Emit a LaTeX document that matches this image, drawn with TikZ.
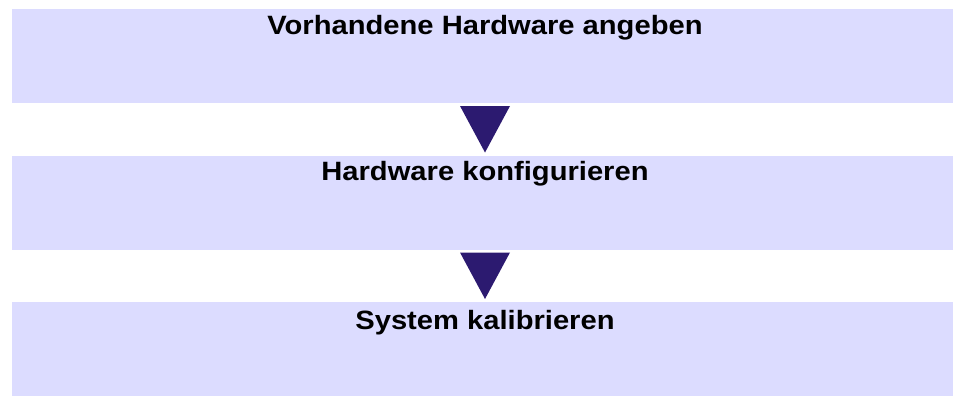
\documentclass[tikz,border=0pt]{standalone}
\usepackage{fontspec}
\setmainfont{Liberation Sans}[FakeStretch=1.1]
\usetikzlibrary{calc}
\definecolor{boxfill}{HTML}{DCDCFF}
\definecolor{trifill}{HTML}{2C1A70}
\tikzset{
  stepbox/.style={fill=boxfill, draw=none, minimum width=946pt, minimum height=94pt, inner sep=0pt, outer sep=0pt},
  steptext/.style={anchor=base, inner sep=0pt, font=\fontsize{26.5}{30}\selectfont\bfseries},
  flowtri/.style={fill=trifill, draw=none}
}
\begin{document}
\begin{tikzpicture}[x=1pt,y=-1pt]
\useasboundingbox (0,0) rectangle (953,396);
\node[stepbox] (b1) at (485,56) {};
\node[stepbox] (b2) at (485,202.5) {};
\node[stepbox] (b3) at (485,349) {};
\node[steptext] (t1) at (485,35) {Vorhandene Hardware angeben};
\node[steptext] (t2) at (485,180) {Hardware konfigurieren};
\node[steptext] (t3) at (485,329) {System kalibrieren};
\fill[flowtri] ($(b1.south)+(-25,3)$) -- ($(b1.south)+(25,3)$) -- ($(b2.north)+(0,-3)$) -- cycle;
\fill[flowtri] ($(b2.south)+(-25,3)$) -- ($(b2.south)+(25,3)$) -- ($(b3.north)+(0,-3)$) -- cycle;
\end{tikzpicture}
\end{document}
